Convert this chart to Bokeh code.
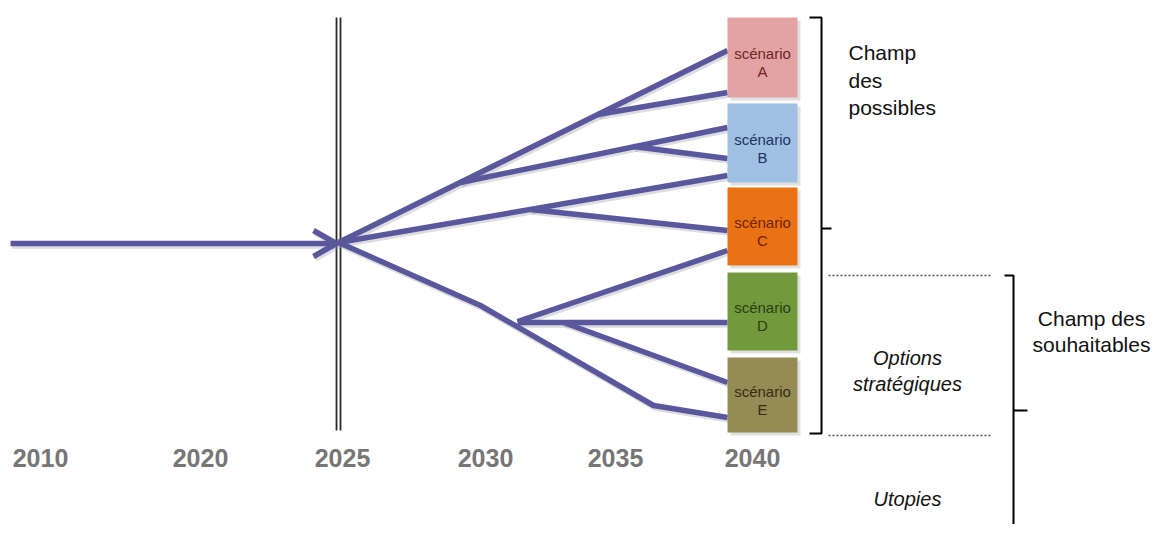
from bokeh.plotting import figure
from bokeh.models import Range1d, ColumnDataSource
from bokeh.core.properties import value
from bokeh.embed import file_html
from bokeh.resources import INLINE

# ---- data (screen-like coordinates of the diagram) ----
years = ["2010", "2020", "2025", "2030", "2035", "2040"]
year_x = [40, 200, 342, 485, 615, 752]
year_y = [457, 457, 457, 457, 457, 457]

trunk_x = [10, 334]
trunk_y = [243, 243]
arrow_x = [313, 336, 313]
arrow_y = [230, 243, 256]

branch_xs = [
    [338, 727], [597, 727], [460, 727], [633, 727], [338, 727],
    [530, 727], [338, 480, 653, 727], [517, 727], [517, 727], [563, 727],
]
branch_ys = [
    [242, 50], [114, 92], [182, 127], [146, 158], [242, 175],
    [209, 230], [242, 305, 405, 417], [321, 250], [322, 322], [322, 382],
]

now_line_x = [336, 340]
now_line_top = 17
now_line_bottom = 430

scenarios = ["A", "B", "C", "D", "E"]
scen_top = [17, 103, 187, 272, 357]
scen_bottom = [97, 182, 265, 350, 432]
scen_left = 727
scen_right = 797
scen_fill = ["#e2a3a2", "#9fc0e2", "#eb7115", "#73993d", "#958b55"]
scen_text = ["#6e2424", "#1a3560", "#6e2502", "#264010", "#332e12"]

possible_lines = ["Champ", "des", "possibles"]
possible_y = [52, 80, 107]
souhait_lines = ["Champ des", "souhaitables"]
souhait_y = [318, 344]
options_lines = ["Options", "stratégiques"]
options_y = [357, 383]
utopies_y = 498

W, H = 1154, 524
p = figure(width=W, height=H, x_range=Range1d(0, W), y_range=Range1d(H, 0),
           output_backend="svg", toolbar_location=None,
           x_axis_location=None, y_axis_location=None, min_border=0)
p.grid.visible = False
p.outline_line_color = None
p.background_fill_color = "white"
p.border_fill_color = "white"

line_col = "#5a589c"

# vertical "now" double line
for vx in now_line_x:
    p.segment(x0=[vx], y0=[now_line_top], x1=[vx], y1=[now_line_bottom],
              line_color="#2a2a2a", line_width=1.8)

# line shadows
shadow_xs = [[x + 1.5 for x in xs] for xs in branch_xs] + [[x + 1.5 for x in trunk_x], [x + 1.5 for x in arrow_x]]
shadow_ys = [[y + 2 for y in ys] for ys in branch_ys] + [[y + 2 for y in trunk_y], [y + 2 for y in arrow_y]]
p.multi_line(xs=shadow_xs, ys=shadow_ys, line_color="#9a9aa8", line_alpha=0.35, line_width=6.5,
             line_join="round")

# trunk and arrow
p.line(trunk_x, trunk_y, line_color=line_col, line_width=5.5)
p.line(arrow_x, arrow_y, line_color=line_col, line_width=5.5, line_join="miter")

# branches
p.multi_line(xs=branch_xs, ys=branch_ys, line_color=line_col, line_width=5.5, line_join="round")

# scenario boxes (shadow + box)
p.quad(left=[scen_left + 3] * 5, right=[scen_right + 3] * 5,
       top=[t + 3 for t in scen_top], bottom=[b + 3 for b in scen_bottom],
       fill_color="#bbbbbb", fill_alpha=0.45, line_color=None)
p.quad(left=[scen_left] * 5, right=[scen_right] * 5, top=scen_top, bottom=scen_bottom,
       fill_color=scen_fill, line_color=None)

cx = (scen_left + scen_right) / 2
src1 = ColumnDataSource(dict(x=[cx] * 5, y=[(t + b) / 2 - 4 for t, b in zip(scen_top, scen_bottom)],
                             t=["scénario"] * 5, c=scen_text))
src2 = ColumnDataSource(dict(x=[cx] * 5, y=[(t + b) / 2 + 14 for t, b in zip(scen_top, scen_bottom)],
                             t=scenarios, c=scen_text))
for src in (src1, src2):
    p.text(x="x", y="y", text="t", source=src, text_color="c", text_align="center",
           text_baseline="middle", text_font=value("Liberation Sans"), text_font_size="15px")

# brackets
p.line([809, 821, 821, 809], [17, 17, 433, 433], line_color="black", line_width=2)
p.line([821, 831], [228, 228], line_color="black", line_width=2)
p.line([1004, 1013, 1013], [275, 275, 545], line_color="black", line_width=2)
p.line([1013, 1027], [410, 410], line_color="black", line_width=2)

# dotted separators
p.line([828, 990], [275, 275], line_color="#555555", line_width=1.5, line_dash="2 2")
p.line([828, 990], [435, 435], line_color="#555555", line_width=1.5, line_dash="2 2")

# texts
p.text(x=[848] * 3, y=possible_y, text=possible_lines, text_align="left", text_baseline="middle",
       text_font=value("Liberation Sans"), text_font_size="21px", text_color="#111111")
p.text(x=[1091] * 2, y=souhait_y, text=souhait_lines, text_align="center", text_baseline="middle",
       text_font=value("Liberation Sans"), text_font_size="21px", text_color="#111111")
p.text(x=[907] * 2, y=options_y, text=options_lines, text_align="center", text_baseline="middle",
       text_font=value("Liberation Sans"), text_font_size="20px", text_font_style="italic",
       text_color="#111111")
p.text(x=[907], y=[utopies_y], text=["Utopies"], text_align="center", text_baseline="middle",
       text_font=value("Liberation Sans"), text_font_size="20px", text_font_style="italic",
       text_color="#111111")

# years
p.text(x=year_x, y=year_y, text=years, text_align="center", text_baseline="middle",
       text_font=value("Liberation Sans"), text_font_size="25px", text_font_style="bold",
       text_color="#767676")

open("out.html", "w").write(file_html(p, INLINE))
